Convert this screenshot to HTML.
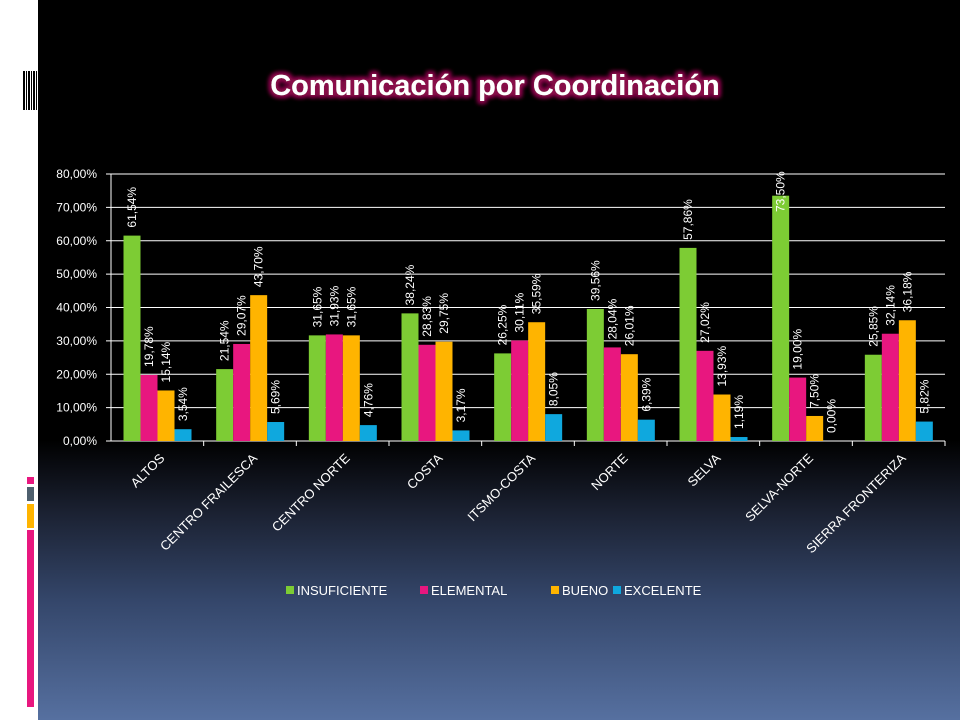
<!DOCTYPE html>
<html><head><meta charset="utf-8"><style>
html,body{margin:0;padding:0}
body{width:960px;height:720px;position:relative;overflow:hidden;background:#fff;font-family:"Liberation Sans",sans-serif}
#bg{position:absolute;left:38px;top:0;width:922px;height:720px;background:linear-gradient(to bottom,#000 0,#000 440px,#1a2030 510px,#34466a 600px,#5670a0 720px)}
.dec{position:absolute;left:27px;width:7px}
</style></head><body>
<div id="bg"></div>
<div style="position:absolute;left:23px;top:71px;width:14px;height:39px;background:repeating-linear-gradient(to right,#000 0,#000 2px,#fff 2px,#fff 3px,#000 3px,#000 4px,#fff 4px,#fff 5px)"></div>
<div class="dec" style="top:477px;height:7px;background:#e8177f"></div>
<div class="dec" style="top:487px;height:14px;background:#4e5f6e"></div>
<div class="dec" style="top:504px;height:24px;background:#ffb400"></div>
<div class="dec" style="top:530px;height:177px;background:#e8177f"></div>
<svg id="chart" width="960" height="720" style="position:absolute;left:0;top:0">
<defs><filter id="glow" x="-20%" y="-50%" width="140%" height="200%"><feMorphology operator="dilate" radius="2" in="SourceAlpha" result="d"/><feGaussianBlur in="d" stdDeviation="2.5" result="b"/><feFlood flood-color="#8a0a4a"/><feComposite in2="b" operator="in" result="g"/><feMerge><feMergeNode in="g"/><feMergeNode in="g"/><feMergeNode in="SourceGraphic"/></feMerge></filter></defs>
<text x="495" y="95" text-anchor="middle" fill="#fff" font-size="29" font-weight="bold" filter="url(#glow)">Comunicación  por Coordinación</text>
<g id="plot"></g>
</svg>
<script>
const categories=["ALTOS","CENTRO FRAILESCA","CENTRO NORTE","COSTA","ITSMO-COSTA","NORTE","SELVA","SELVA-NORTE","SIERRA FRONTERIZA"];
const seriesNames=["INSUFICIENTE","ELEMENTAL","BUENO","EXCELENTE"];
const insuficiente=[61.54,21.54,31.65,38.24,26.25,39.56,57.86,73.50,25.85];
const elemental=[19.78,29.07,31.93,28.83,30.11,28.04,27.02,19.00,32.14];
const bueno=[15.14,43.70,31.65,29.75,35.59,26.01,13.93,7.50,36.18];
const excelente=[3.54,5.69,4.76,3.17,8.05,6.39,1.19,0.00,5.82];
const yTicks=[0,10,20,30,40,50,60,70,80];
const colors=["#7dcc34","#e8177f","#ffb400","#0fa8de"];
const series=[insuficiente,elemental,bueno,excelente];
const X0=111,X1=945,Y0=441,Y1=174,YMAX=80;
const g=document.getElementById('plot');const NS="http://www.w3.org/2000/svg";
function y(v){return Y0-(v/YMAX)*(Y0-Y1);}
const gw=(X1-X0)/categories.length;
function mk(t,a){const e=document.createElementNS(NS,t);for(const k in a)e.setAttribute(k,a[k]);g.appendChild(e);return e;}
function fmt(v){return v.toFixed(2).replace('.',',')+'%';}
yTicks.forEach(t=>{
 const l=mk('line',{x1:X0-5,x2:t===0?X1:X1,y1:y(t),y2:y(t),stroke:'#fff','stroke-width':1});
 
 
 const tx=mk('text',{x:X0-14,y:y(t)+4,'text-anchor':'end',fill:'#fff','font-size':12});
 tx.textContent=fmt(t);
 
 
});
const ax=mk('line',{x1:X0,x2:X0,y1:Y1,y2:Y0,stroke:'#fff','stroke-width':1});


const bw=17,off=12.5;
categories.forEach((c,i)=>{
 const gx=X0+i*gw;
 const tk=mk('line',{x1:gx+gw,x2:gx+gw,y1:Y0,y2:Y0+5,stroke:'#fff'});
 
 
 series.forEach((s,j)=>{
  const v=s[i];const bx=gx+off+j*bw;
  const r=mk('rect',{x:bx,y:y(v),width:bw,height:Y0-y(v),fill:colors[j]});
  
  
  let ly=y(v)-8; if(ly<212) ly=Math.max(ly,212);
  const lt=mk('text',{x:0,y:0,fill:'#fff','font-size':12,transform:`translate(${bx+bw/2+4},${ly}) rotate(-90)`});
  lt.textContent=fmt(v);
  
  
 });
 const cx=gx+gw/2+8;
 const ct=mk('text',{x:0,y:0,fill:'#fff','font-size':13,'text-anchor':'end',transform:`translate(${cx},${Y0+18}) rotate(-45)`});
 ct.textContent=c;
 
 
});
const legX=[286,420,551,613];
seriesNames.forEach((n,j)=>{
 const r=mk('rect',{x:legX[j],y:586,width:8,height:8,fill:colors[j]});
 
 
 const t=mk('text',{x:legX[j]+11,y:595,fill:'#fff','font-size':13});
 t.textContent=n;
 
 
});
</script>
</body></html>
